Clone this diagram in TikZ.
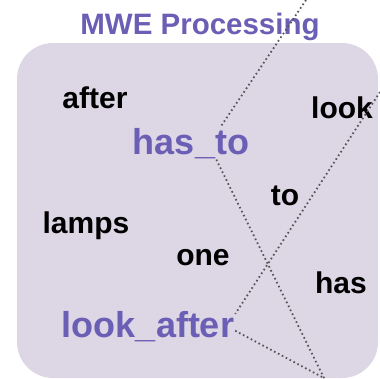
\documentclass[tikz,border=0pt]{standalone}
\usepackage{fontspec}
\setmainfont{Liberation Sans}
\definecolor{mwepurple}{RGB}{107,94,181}
\definecolor{mwebox}{RGB}{221,214,229}
\definecolor{linkgray}{RGB}{85,85,85}
\begin{document}
\begin{tikzpicture}[x=1pt, y=-1pt,
    word/.style={anchor=base, inner sep=1pt, font=\fontsize{30}{32}\selectfont\bfseries},
    mwe/.style={anchor=base, inner sep=1pt, text=mwepurple, font=\fontsize{36}{38}\selectfont\bfseries},
    link/.style={draw=linkgray, line width=1.8pt, dash pattern=on 1.6pt off 2.8pt}]
    \useasboundingbox (0,0) rectangle (380,378);
    \filldraw[fill=mwebox, draw=none, rounded corners=36pt] (17,43) rectangle (378,378);
    \node[word, text=mwepurple, font=\fontsize{29.5}{31}\selectfont\bfseries] (title) at (200,34) {MWE Processing};
    % words
    \node[word] (after) at (95,108) {after};
    \node[word] (look) at (342,118) {look};
    \node[word] (to) at (285,205) {to};
    \node[word] (lamps) at (86,233) {lamps};
    \node[word] (one) at (203,265) {one};
    \node[word] (has) at (341,293) {has};
    % merged expressions
    \node[mwe] (hasto) at (191,154) {has\_to};
    \node[mwe] (lookafter) at (148,337) {look\_after};
    % loose ends
    \coordinate (up) at (306,0);
    \coordinate (side) at (380,92);
    \coordinate (down) at (324,378);
    \draw[link] (up) -- (hasto.29);
    \draw[link] (hasto.-33) -- (down);
    \draw[link] (side) -- (lookafter.8);
    \draw[link] (lookafter.-3) -- (down);
\end{tikzpicture}
\end{document}
